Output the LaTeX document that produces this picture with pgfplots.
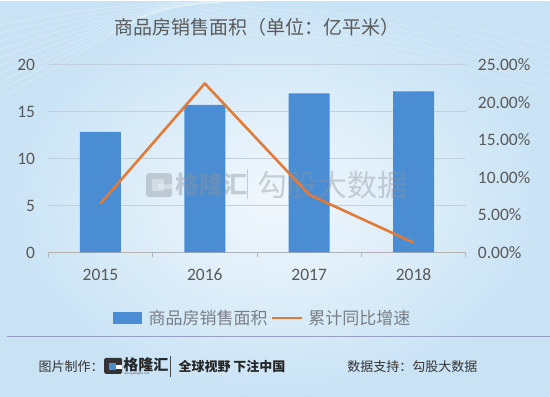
\documentclass[border=0pt]{standalone}
\usepackage{pgfplots}
\pgfplotsset{compat=1.18}
\usepackage{fontspec}
\setmainfont{Carlito}
\newfontfamily\cjk{Noto Sans CJK SC}
\definecolor{barblue}{HTML}{4A8DD2}
\definecolor{lineorange}{HTML}{E07B39}
\definecolor{txtgray}{HTML}{595959}
\definecolor{leggray}{HTML}{7A7F86}
\definecolor{gridgray}{HTML}{C3CFDA}
\definecolor{bgin}{HTML}{F1F8FD}
\definecolor{bgout}{HTML}{C9E3F5}
\definecolor{wmgray}{HTML}{8E959E}
\begin{document}
\begin{tikzpicture}[x=1bp,y=1bp]
\shade[inner color=bgin, outer color=bgout] (0,0) rectangle (550,396);
% faint texture lines top-left
\foreach \i in {0,...,9}{
  \draw[white, opacity=0.35, line width=0.5bp] (0,{300+8*\i}) .. controls (60,{330+6*\i}) and (120,{370+3*\i}) .. ({170+10*\i},396);
}
\foreach \i in {0,...,6}{
  \draw[white, opacity=0.3, line width=0.5bp] (200,{396-4*\i}) .. controls (300,{380-5*\i}) and (420,{390-6*\i}) .. (550,{350-8*\i});
}
% title
\node[text=txtgray, font=\cjk\fontsize{19bp}{22bp}\selectfont] at (257,370) {商品房销售面积（单位：亿平米）};
% bars axis
\begin{axis}[
  at={(48bp,144.5bp)}, anchor=south west, scale only axis,
  width=418bp, height=188bp,
  xmin=-0.5, xmax=3.5, ymin=0, ymax=20,
  xtick={0,1,2,3}, xticklabels={2015,2016,2017,2018},
  ytick={0,5,10,15,20},
  ymajorgrids, grid style={gridgray, line width=0.8bp},
  axis x line*=bottom, axis y line*=left,
  x axis line style={draw=gray!60, -},
  y axis line style={draw=none},
  major tick length=0pt,
  extra x ticks={-0.5,0.5,1.5,2.5,3.5}, extra x tick labels={},
  extra x tick style={major tick length=5bp, tick align=outside, tick style={gray!60, line width=0.8bp}, xmajorgrids=false},
  ticklabel style={font=\fontsize{17.5bp}{20bp}\selectfont, text=txtgray},
  yticklabel style={inner sep=0pt, xshift=-13bp},
  xticklabel style={inner sep=0pt, yshift=-16bp},
  /pgf/number format/assume math mode=true,
  clip=false,
]
\addplot[ybar, bar width=41bp, fill=barblue, draw=none] coordinates {(0,12.85) (1,15.73) (2,16.94) (3,17.17)};
\end{axis}
% watermark
\begin{scope}[opacity=0.42]
\fill[wmgray, rounded corners=3bp] (146,200) rectangle (172,224);
\fill[bgin] (158,208) rectangle (172,213);
\fill[bgin] (152,206) rectangle (164,218);
\node[text=wmgray, font=\cjk\bfseries\fontsize{24bp}{26bp}\selectfont, anchor=west] at (172,213) {格隆汇};
\draw[wmgray, line width=0.8bp] (247,198) -- (247,228);
\node[text=wmgray, font=\cjk\fontsize{30bp}{32bp}\selectfont, anchor=west] at (254,212) {勾股大数据};
\end{scope}
% line axis
\begin{axis}[
  at={(48bp,144.5bp)}, anchor=south west, scale only axis,
  width=418bp, height=188bp,
  xmin=-0.5, xmax=3.5, ymin=0, ymax=25,
  axis x line=none, axis y line*=right,
  y axis line style={draw=none},
  major tick length=0pt,
  ytick={0,5,10,15,20,25},
  yticklabels={0.00\%,5.00\%,10.00\%,15.00\%,20.00\%,25.00\%},
  ticklabel style={font=\fontsize{17.5bp}{20bp}\selectfont, text=txtgray},
  yticklabel style={inner sep=0pt, xshift=12bp},
  clip=false,
]
\addplot[lineorange, line width=2.6bp, line join=round] coordinates {(0,6.5) (1,22.5) (2,7.7) (3,1.3)};
\end{axis}
% legend
\fill[barblue] (113,73) rectangle (142,85);
\node[text=leggray, font=\cjk\fontsize{17bp}{20bp}\selectfont, anchor=west] at (145,79) {商品房销售面积};
\draw[lineorange, line width=2.6bp] (272,79) -- (302,79);
\node[text=leggray, font=\cjk\fontsize{17bp}{20bp}\selectfont, anchor=west] at (305,79) {累计同比增速};
% separator
\draw[gray!70!blue!60, line width=0.7bp] (7,61) -- (550,61);
% footer
\node[text=black!80, font=\cjk\fontsize{13bp}{15bp}\selectfont, anchor=west] at (35,30) {图片制作：};
\fill[black!80, rounded corners=1.5bp] (104,23) rectangle (122,39);
\fill[white] (112,28) rectangle (122,32);
\fill[barblue] (109,27) rectangle (116,34);
\node[text=black!85, font=\cjk\bfseries\fontsize{15bp}{16bp}\selectfont, anchor=west, inner sep=0pt] at (123,32) {格隆汇};
\node[text=black!70, font=\fontsize{3bp}{3bp}\selectfont, anchor=west, inner sep=0pt] at (124,23) {www.gelonghui.com};
\draw[black!70, line width=0.8bp] (170,20) -- (170,41);
\node[text=black!85, font=\cjk\bfseries\fontsize{13bp}{15bp}\selectfont, anchor=west] at (175,30) {全球视野 下注中国};
\node[text=black!80, font=\cjk\fontsize{13bp}{15bp}\selectfont, anchor=west] at (344,30) {数据支持：勾股大数据};
\end{tikzpicture}
\end{document}
